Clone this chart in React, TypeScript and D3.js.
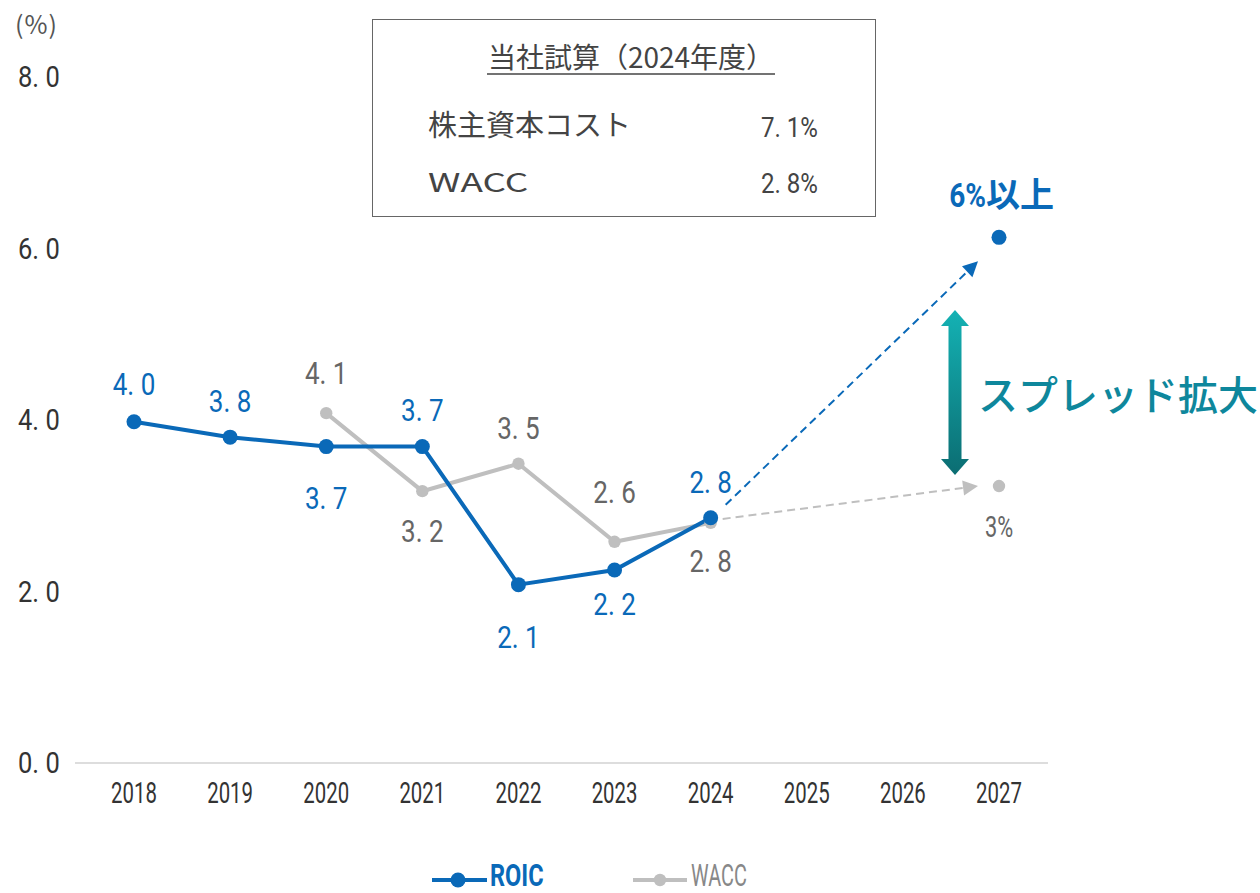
import React from "react";
import * as d3 from "d3";

const years = ["2018","2019","2020","2021","2022","2023","2024","2025","2026","2027"];
const roicYears = ["2018","2019","2020","2021","2022","2023","2024"];
const roicValues = [3.98, 3.8, 3.69, 3.69, 2.08, 2.25, 2.86];
const roicLabels = ["4.0","3.8","3.7","3.7","2.1","2.2","2.8"];
const waccYears = ["2020","2021","2022","2023","2024"];
const waccValues = [4.08, 3.17, 3.49, 2.58, 2.8];
const waccLabels = ["4.1","3.2","3.5","2.6","2.8"];
const targetYear = "2027";
const roicTarget = 6.13;
const waccTarget = 3.23;
const roicTargetLabel = "6%";
const waccTargetLabel = "3%";
const yTicks = [0, 2, 4, 6, 8];
const boxTitle = "当社試算（2024年度）";
const boxRows = ["株主資本コスト", "WACC"];
const boxValues = ["7.1%", "2.8%"];

// label vertical offsets (baseline relative to point), px
const roicLabelDy = [-27, -25, 62, -26, 63, 45, -25];
const waccLabelDy = [-29, 51, -25, -39, 49];

const BLUE = "#0A69B8";
const GRAY_LINE = "#BFBFBF";
const GRAY_TEXT = "#666666";
const NUM_FONT = "Roboto, sans-serif";
const JP_FONT = "'Noto Sans CJK JP', sans-serif";

const spaced = (s: string) => s.replace(".", ". ");

function CText(props: { x: number; y: number; sx: number; size: number; fill: string; anchor?: string; weight?: any; family?: string; children: any }) {
  const { x, y, sx, size, fill, anchor, weight, family, children } = props;
  return (
    <text transform={`translate(${x},${y}) scale(${sx},1)`} fontFamily={family || NUM_FONT} fontSize={size} fill={fill}
      textAnchor={anchor || "start"} fontWeight={weight || "normal"}>{children}</text>
  );
}

function arrowHead(tip: number[], from: number[], len: number, halfW: number) {
  const dx = tip[0] - from[0], dy = tip[1] - from[1];
  const L = Math.hypot(dx, dy);
  const ux = dx / L, uy = dy / L;
  const bx = tip[0] - ux * len, by = tip[1] - uy * len;
  const px = -uy, py = ux;
  return `M${tip[0]},${tip[1]} L${bx + px * halfW},${by + py * halfW} L${bx - px * halfW},${by - py * halfW} Z`;
}

export default function App() {
  const W = 1260, H = 893;
  const x = d3.scalePoint<string>().domain(years).range([134, 999]);
  const y = d3.scaleLinear().domain([0, 8]).range([763, 77]);
  const line = d3.line<[string, number]>().x(d => x(d[0])!).y(d => y(d[1]));
  const roicPts: [string, number][] = roicYears.map((yr, i) => [yr, roicValues[i]]);
  const waccPts: [string, number][] = waccYears.map((yr, i) => [yr, waccValues[i]]);

  const lastR = roicPts[roicPts.length - 1];
  const lastW = waccPts[waccPts.length - 1];
  const rx0 = x(lastR[0])!, ry0 = y(lastR[1]);
  const wx0 = x(lastW[0])!, wy0 = y(lastW[1]);
  const tx = x(targetYear)!;
  const rty = y(roicTarget), wty = y(waccTarget);

  const bStart = [rx0 + 15, ry0 - 13];
  const bTip = [tx - 21, rty + 24];
  const gStart = [wx0 + 12, wy0 - 4];
  const gTip = [tx - 21, wty];
  const bHeadLen = 15, gHeadLen = 15;
  const bDir = Math.hypot(bTip[0] - bStart[0], bTip[1] - bStart[1]);
  const bEnd = [bTip[0] - (bTip[0] - bStart[0]) / bDir * bHeadLen, bTip[1] - (bTip[1] - bStart[1]) / bDir * bHeadLen];
  const gDir = Math.hypot(gTip[0] - gStart[0], gTip[1] - gStart[1]);
  const gEnd = [gTip[0] - (gTip[0] - gStart[0]) / gDir * gHeadLen, gTip[1] - (gTip[1] - gStart[1]) / gDir * gHeadLen];

  const ax = 955, aTop = 310, aBot = 475, hw = 14, sw = 6.5, hh = 16;

  return (
    <svg width={W} height={H} style={{ position: "absolute", left: 0, top: 0 }}>
      <defs>
        <linearGradient id="tg" x1="0" y1="0" x2="0" y2="1">
          <stop offset="0%" stopColor="#14B2B4" />
          <stop offset="100%" stopColor="#0B6D72" />
        </linearGradient>
      </defs>
      <rect width={W} height={H} fill="#fff" />

      {/* unit label */}
      <text x={15} y={34} fontFamily={JP_FONT} fontSize={25} fill="#555" letterSpacing={1}>(%)</text>

      {/* y ticks */}
      {yTicks.map(t => (
        <CText key={t} x={18} y={y(t) + 10} sx={0.88} size={29} fill="#333">{spaced(t.toFixed(1))}</CText>
      ))}

      {/* baseline */}
      <line x1={75} x2={1048} y1={y(0)} y2={y(0)} stroke="#DDDDDD" strokeWidth={2} />

      {/* x ticks */}
      {years.map(yr => (
        <CText key={yr} x={x(yr)!} y={803} sx={0.68} size={30} fill="#333" anchor="middle">{yr}</CText>
      ))}

      {/* box */}
      <rect x={372.5} y={19.5} width={503} height={197} fill="#fff" stroke="#666" strokeWidth={1} />
      <text x={631} y={68} textAnchor="middle" fontFamily={JP_FONT} fontSize={28} fill="#444">{boxTitle}</text>
      <line x1={487} x2={775} y1={74} y2={74} stroke="#444" strokeWidth={1.5} />
      <text x={428} y={136} fontFamily={JP_FONT} fontSize={29} fill="#444">{boxRows[0]}</text>
      <CText x={428} y={192} sx={1.42} size={26} fill="#444" family={JP_FONT}>{boxRows[1]}</CText>
      {boxValues.map((v, i) => (
        <CText key={v + i} x={818} y={137 + i * 56} sx={0.86} size={28} fill="#444" anchor="end">{spaced(v)}</CText>
      ))}

      {/* dashed projections */}
      <line x1={gStart[0]} y1={gStart[1]} x2={gEnd[0]} y2={gEnd[1]} stroke={GRAY_LINE} strokeWidth={2} strokeDasharray="8,5" />
      <path d={arrowHead(gTip, gStart, gHeadLen, 7.5)} fill={GRAY_LINE} />
      <line x1={bStart[0]} y1={bStart[1]} x2={bEnd[0]} y2={bEnd[1]} stroke={BLUE} strokeWidth={2} strokeDasharray="8,5" />
      <path d={arrowHead(bTip, bStart, bHeadLen, 7.5)} fill={BLUE} />

      {/* lines */}
      <path d={line(waccPts)!} fill="none" stroke={GRAY_LINE} strokeWidth={4} />
      <path d={line(roicPts)!} fill="none" stroke={BLUE} strokeWidth={4} />
      {waccPts.map((p, i) => (
        <circle key={"w" + i} cx={x(p[0])} cy={y(p[1])} r={6.2} fill={GRAY_LINE} />
      ))}
      {roicPts.map((p, i) => (
        <circle key={"r" + i} cx={x(p[0])} cy={y(p[1])} r={7.5} fill={BLUE} />
      ))}
      <circle cx={tx} cy={rty} r={7.5} fill={BLUE} />
      <circle cx={tx} cy={wty} r={6.2} fill={GRAY_LINE} />

      {/* data labels */}
      {roicPts.map((p, i) => (
        <CText key={"rl" + i} x={x(p[0])!} y={y(p[1]) + roicLabelDy[i]} sx={0.84} size={31} fill={BLUE} anchor="middle">{spaced(roicLabels[i])}</CText>
      ))}
      {waccPts.map((p, i) => (
        <CText key={"wl" + i} x={x(p[0])!} y={y(p[1]) + waccLabelDy[i]} sx={0.84} size={31} fill={GRAY_TEXT} anchor="middle">{spaced(waccLabels[i])}</CText>
      ))}
      <CText x={tx} y={wty + 51} sx={0.75} size={29} fill={GRAY_TEXT} anchor="middle">{waccTargetLabel}</CText>
      <CText x={986} y={207} sx={0.85} size={33} fill={BLUE} anchor="end" weight="bold">{roicTargetLabel}</CText>
      <text x={986} y={207} fontFamily={JP_FONT} fontSize={34} fontWeight="bold" fill={BLUE}>以上</text>

      {/* spread double arrow */}
      <path d={`M${ax},${aTop} L${ax + hw},${aTop + hh} L${ax + sw},${aTop + hh} L${ax + sw},${aBot - hh} L${ax + hw},${aBot - hh} L${ax},${aBot} L${ax - hw},${aBot - hh} L${ax - sw},${aBot - hh} L${ax - sw},${aTop + hh} L${ax - hw},${aTop + hh} Z`} fill="url(#tg)" />
      <text x={978} y={410} fontFamily={JP_FONT} fontSize={40} fontWeight={500} fill="#0E879C">スプレッド拡大</text>

      {/* legend */}
      <line x1={432} x2={487} y1={880} y2={880} stroke={BLUE} strokeWidth={4} />
      <circle cx={458} cy={880} r={7.5} fill={BLUE} />
      <CText x={490} y={886} sx={0.76} size={31} fill={BLUE} weight="bold">ROIC</CText>
      <line x1={633} x2={687} y1={880} y2={880} stroke={GRAY_LINE} strokeWidth={4} />
      <circle cx={660} cy={880} r={6.2} fill={GRAY_LINE} />
      <CText x={691} y={886} sx={0.64} size={31} fill="#888">WACC</CText>
    </svg>
  );
}
